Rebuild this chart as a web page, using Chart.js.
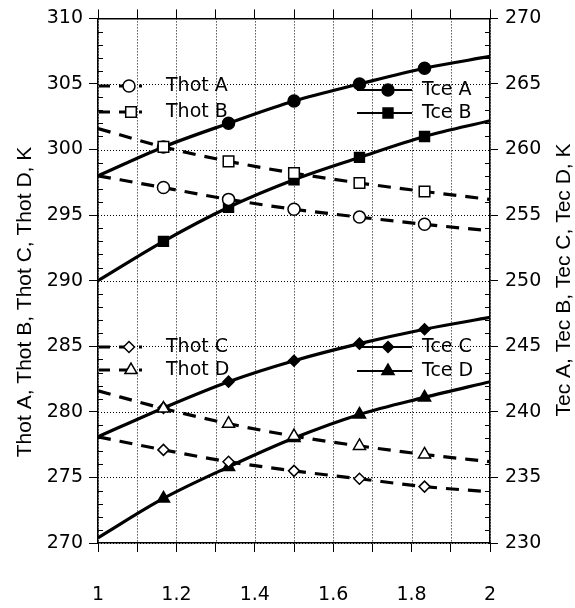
<!DOCTYPE html>
<html>
<head>
<meta charset="utf-8">
<script src="https://cdn.jsdelivr.net/npm/chart.js@4/dist/chart.umd.min.js"></script>
<style>
  body { margin: 0; background: #fff; }
  #wrap { width: 575px; height: 608px; position: relative; }
</style>
</head>
<body>
<div id="wrap"><canvas id="myChart"></canvas></div>
<script>
// x positions of the computed points
var xs = [1, 1.167, 1.333, 1.5, 1.667, 1.833, 2];
var xTickLabels = ["1", "1.2", "1.4", "1.6", "1.8", "2"];

// left axis (K)
var thotA = [298.0, 297.1, 296.2, 295.45, 294.85, 294.3, 293.8];
var thotB = [301.6, 300.2, 299.1, 298.2, 297.45, 296.8, 296.2];
var thotC = [278.1, 277.1, 276.2, 275.5, 274.9, 274.3, 273.9];
var thotD = [281.6, 280.25, 279.1, 278.15, 277.4, 276.75, 276.2];

// right axis (K)
var tceA = [258.0, 260.2, 262.0, 263.7, 265.0, 266.2, 267.1];
var tceB = [250.0, 253.0, 255.6, 257.7, 259.4, 261.0, 262.2];
var tceC = [238.1, 240.3, 242.3, 243.9, 245.2, 246.3, 247.2];
var tceD = [230.4, 233.4, 235.8, 238.0, 239.8, 241.1, 242.3];

var FONT = "'DejaVu Sans', Verdana, sans-serif";
var TITLE_FONT = "'Liberation Sans', Arial, Helvetica, sans-serif";

function pts(arr) {
  return arr.map(function(v, i) { return { x: xs[i], y: v }; });
}
function radii(r) {
  return xs.map(function(x, i) { return (i === 0 || i === xs.length - 1) ? 0 : r; });
}

function series(label, data, axis, style, r, filled, dashed) {
  return {
    label: label,
    data: pts(data),
    yAxisID: axis,
    borderColor: "#000",
    borderWidth: 3.2,
    borderDash: dashed ? [13, 9] : [],
    cubicInterpolationMode: "monotone",
    pointStyle: style,
    pointRadius: radii(r),
    pointBorderWidth: 1.5,
    pointBorderColor: "#000",
    pointBackgroundColor: filled ? "#000" : "#fff",
    _legStyle: style,
    _legR: r,
    _legFilled: filled,
    _legDashed: dashed
  };
}

var datasets = [
  series("Thot A", thotA, "y", "circle", 6, false, true),
  series("Thot B", thotB, "y", "rect", 7.5, false, true),
  series("Thot C", thotC, "y", "rectRot", 5.5, false, true),
  series("Thot D", thotD, "y", "triangle", 7, false, true),
  series("Tce A", tceA, "y1", "circle", 6, true, false),
  series("Tce B", tceB, "y1", "rect", 7, true, false),
  series("Tce C", tceC, "y1", "rectRot", 5.5, true, false),
  series("Tce D", tceD, "y1", "triangle", 7, true, false)
];

// where the legend entries sit (canvas px)
var legendPos = [
  { x0: 99, x1: 142, mx: 129, tx: 166, ty: 86 },
  { x0: 99, x1: 142, mx: 131, tx: 166, ty: 112 },
  { x0: 99, x1: 142, mx: 129, tx: 166, ty: 347 },
  { x0: 99, x1: 142, mx: 131, tx: 166, ty: 370 },
  { x0: 357, x1: 412, mx: 388, tx: 422, ty: 90 },
  { x0: 357, x1: 412, mx: 388, tx: 422, ty: 113 },
  { x0: 357, x1: 412, mx: 388, tx: 422, ty: 347 },
  { x0: 357, x1: 412, mx: 388, tx: 422, ty: 371 }
];

function drawMarker(ctx, style, x, y, r, filled) {
  ctx.save();
  ctx.beginPath();
  if (style === "circle") {
    ctx.arc(x, y, r, 0, Math.PI * 2);
  } else if (style === "rect") {
    var s = r * Math.SQRT1_2;
    ctx.rect(x - s, y - s, 2 * s, 2 * s);
  } else if (style === "rectRot") {
    ctx.moveTo(x, y - r); ctx.lineTo(x + r, y); ctx.lineTo(x, y + r); ctx.lineTo(x - r, y);
    ctx.closePath();
  } else if (style === "triangle") {
    ctx.moveTo(x, y - r);
    ctx.lineTo(x + r * 0.866, y + r * 0.5);
    ctx.lineTo(x - r * 0.866, y + r * 0.5);
    ctx.closePath();
  }
  ctx.fillStyle = filled ? "#000" : "#fff";
  ctx.fill();
  ctx.lineWidth = 1.5;
  ctx.strokeStyle = "#000";
  ctx.stroke();
  ctx.restore();
}

var extras = {
  id: "extras",
  beforeDatasetsDraw: function(chart) {
    // dotted grid every 0.1 in x and every 5 K in y
    var ctx = chart.ctx;
    var a = chart.chartArea;
    var x = chart.scales.x, y = chart.scales.y;
    ctx.save();
    ctx.strokeStyle = "#000";
    ctx.lineWidth = 1;
    ctx.setLineDash([1, 2]);
    x.ticks.forEach(function(t) {
      var px = Math.round(x.getPixelForValue(t.value)) + 0.5;
      ctx.beginPath(); ctx.moveTo(px, a.top); ctx.lineTo(px, a.bottom); ctx.stroke();
    });
    y.ticks.forEach(function(t) {
      var py = Math.round(y.getPixelForValue(t.value)) + 0.5;
      ctx.beginPath(); ctx.moveTo(a.left, py); ctx.lineTo(a.right, py); ctx.stroke();
    });
    ctx.restore();
  },
  afterDraw: function(chart) {
    var ctx = chart.ctx;
    var a = chart.chartArea;
    var y = chart.scales.y;

    // minor ticks every 1 K, inside the frame
    ctx.save();
    ctx.strokeStyle = "#000";
    ctx.lineWidth = 1;
    for (var v = 271; v < 310; v++) {
      if (v % 5 === 0) continue;
      var py = Math.round(y.getPixelForValue(v)) + 0.5;
      ctx.beginPath();
      ctx.moveTo(a.left, py); ctx.lineTo(a.left + 5, py);
      ctx.moveTo(a.right - 5, py); ctx.lineTo(a.right, py);
      ctx.stroke();
    }
    ctx.restore();

    // legend
    ctx.save();
    ctx.font = "19px " + FONT;
    ctx.textBaseline = "middle";
    ctx.fillStyle = "#000";
    chart.data.datasets.forEach(function(ds, i) {
      var p = legendPos[i];
      ctx.save();
      ctx.strokeStyle = "#000";
      ctx.lineWidth = ds._legDashed ? 3 : 2;
      ctx.setLineDash(ds._legDashed ? [11, 9] : []);
      ctx.beginPath();
      ctx.moveTo(p.x0, p.ty); ctx.lineTo(p.x1, p.ty);
      ctx.stroke();
      ctx.restore();
      drawMarker(ctx, ds._legStyle, p.mx, p.ty, ds._legR, ds._legFilled);
      ctx.fillText(ds.label, p.tx, p.ty);
    });
    ctx.restore();

    // axis titles
    [["Thot A, Thot B, Thot C, Thot D, K", 25, 302], ["Tec A, Tec B, Tec C, Tec D, K", 564, 280]].forEach(function(t) {
      ctx.save();
      ctx.font = "21px " + TITLE_FONT;
      ctx.fillStyle = "#000";
      ctx.textAlign = "center";
      ctx.textBaseline = "middle";
      ctx.translate(t[1], t[2]);
      ctx.rotate(-Math.PI / 2);
      ctx.fillText(t[0], 0, 0);
      ctx.restore();
    });
  }
};

var ctxEl = document.getElementById("myChart");
var myChart = new Chart(ctxEl, {
  type: "line",
  data: { datasets: datasets },
  options: {
    responsive: true,
    maintainAspectRatio: false,
    animation: false,
    events: [],
    layout: { padding: 0 },
    plugins: { legend: { display: false }, tooltip: { enabled: false } },
    scales: {
      x: {
        type: "linear", position: "bottom", min: 1, max: 2,
        grid: { drawOnChartArea: false, tickLength: 9, tickColor: "#000", tickWidth: 1 },
        border: { display: true, color: "#000", width: 1.5 },
        ticks: {
          stepSize: 0.1, color: "#000", padding: 32,
          font: { size: 19, family: FONT },
          maxRotation: 0, autoSkip: false,
          callback: function(v) {
            var r = Math.round(v * 10);
            return r % 2 === 0 ? xTickLabels[(r - 10) / 2] : "";
          }
        },
        afterFit: function(s) { s.height = 65; }
      },
      x2: {
        type: "linear", position: "top", min: 1, max: 2,
        grid: { drawOnChartArea: false, tickLength: 9, tickColor: "#000", tickWidth: 1 },
        border: { display: true, color: "#000", width: 1.5 },
        ticks: { stepSize: 0.1, display: false },
        afterFit: function(s) { s.height = 18; }
      },
      y: {
        type: "linear", position: "left", min: 270, max: 310,
        grid: { drawOnChartArea: false, tickLength: 9, tickColor: "#000", tickWidth: 1 },
        border: { display: true, color: "#000", width: 1.5 },
        ticks: { stepSize: 5, color: "#000", padding: 6, font: { size: 19, family: FONT } },
        afterFit: function(s) { s.width = 98; }
      },
      y1: {
        type: "linear", position: "right", min: 230, max: 270,
        grid: { drawOnChartArea: false, tickLength: 8, tickColor: "#000", tickWidth: 1 },
        border: { display: true, color: "#000", width: 1.5 },
        ticks: { stepSize: 5, color: "#000", padding: 7, font: { size: 19, family: FONT } },
        afterFit: function(s) { s.width = 85; }
      }
    }
  },
  plugins: [extras]
});
</script>
</body>
</html>
